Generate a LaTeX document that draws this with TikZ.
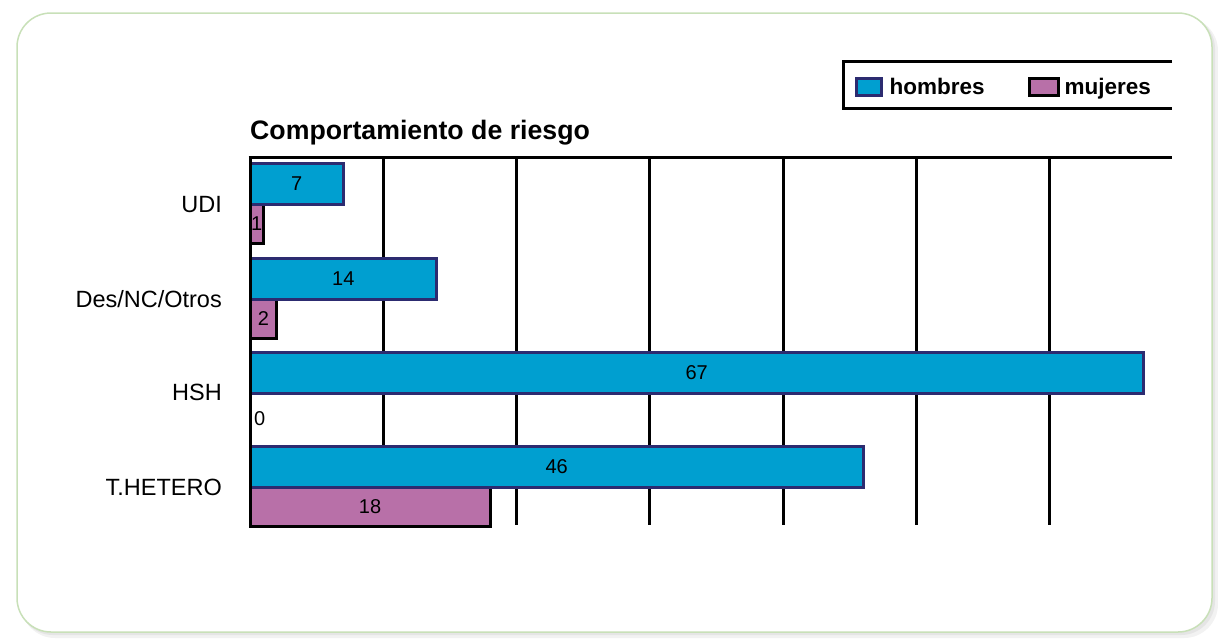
\documentclass[tikz,border=0pt]{standalone}
\usepackage{fontspec}
\setmainfont{Liberation Sans}
\usetikzlibrary{positioning}
\definecolor{hblue}{RGB}{0,159,208}
\definecolor{hnavy}{RGB}{44,43,112}
\definecolor{mpurple}{RGB}{184,112,168}
\definecolor{framegreen}{RGB}{200,224,184}

\begin{document}
\begin{tikzpicture}[x=1pt,y=-1pt,
  gridline/.style={line width=3pt},
  hbar/.style={draw=hnavy,fill=hblue,line width=3pt,inner sep=0pt,outer sep=0pt,
    anchor=north west,minimum height=41pt,font=\fontsize{20}{20}\selectfont},
  mbar/.style={draw=black,fill=mpurple,line width=3pt,inner sep=0pt,outer sep=0pt,
    anchor=north west,minimum height=39pt,font=\fontsize{20}{20}\selectfont},
  catlabel/.style={anchor=east,inner sep=0pt,font=\fontsize{23.5}{23.5}\selectfont},
  legtext/.style={inner sep=0pt,text height=18pt,text depth=3pt,
    font=\bfseries\fontsize{22.5}{22.5}\selectfont}]
\useasboundingbox (0,0) rectangle (1218,638);
% panel with its shadow
\fill[black!5,rounded corners=34pt] (21,17) rectangle (1218,638);
\fill[black!10,rounded corners=34pt] (19,15) rectangle (1215,635);
\draw[framegreen,line width=1.5pt,fill=white,rounded corners=34pt] (17,13) rectangle (1212,632);
% title and legend
\node[anchor=base west,inner sep=0pt,font=\bfseries\fontsize{26.7}{26.7}\selectfont] (title) at (250,139) {Comportamiento de riesgo};
\draw[gridline] (1172,61) -- (843,61) -- (843,108) -- (1172,108);
\node[draw=hnavy,fill=hblue,line width=3pt,minimum width=25pt,minimum height=17pt,inner sep=0pt] (hswatch) at (868.5,86.5) {};
\node[legtext,right=7pt of hswatch] (hlegend) {hombres};
\node[draw=black,fill=mpurple,line width=3pt,minimum width=29pt,minimum height=17pt,inner sep=0pt] (mswatch) at (1043.5,86.5) {};
\node[legtext,right=5pt of mswatch] (mlegend) {mujeres};
% grid
\draw[gridline] (248.5,157) -- (1172,157);
\foreach \k in {1,...,6}
  \draw[gridline] (250+133.33*\k,157) -- (250+133.33*\k,525);
% bars
\node[mbar,minimum width=13.3pt] (udim) at (250,204) {1};
\node[hbar,minimum width=93.3pt] (udih) at (250,163) {7};
\node[mbar,minimum width=26.7pt] (desm) at (250,299) {2};
\node[hbar,minimum width=186.7pt] (desh) at (250,258) {14};
\node[anchor=west,inner sep=0pt,font=\fontsize{20}{20}\selectfont] (hshm) at (254,419) {0};
\node[hbar,minimum width=893.3pt] (hshh) at (250,352) {67};
\node[mbar,minimum width=240pt] (hetm) at (250,487) {18};
\node[hbar,minimum width=613.3pt] (heth) at (250,446) {46};
\draw[gridline] (250,157) -- (250,525);
% categories
\node[catlabel] (udi) at (222,205) {UDI};
\node[catlabel] (des) at (222,299) {Des/NC/Otros};
\node[catlabel] (hsh) at (222,392) {HSH};
\node[catlabel] (het) at (222,487) {T.HETERO};
\end{tikzpicture}
\end{document}
